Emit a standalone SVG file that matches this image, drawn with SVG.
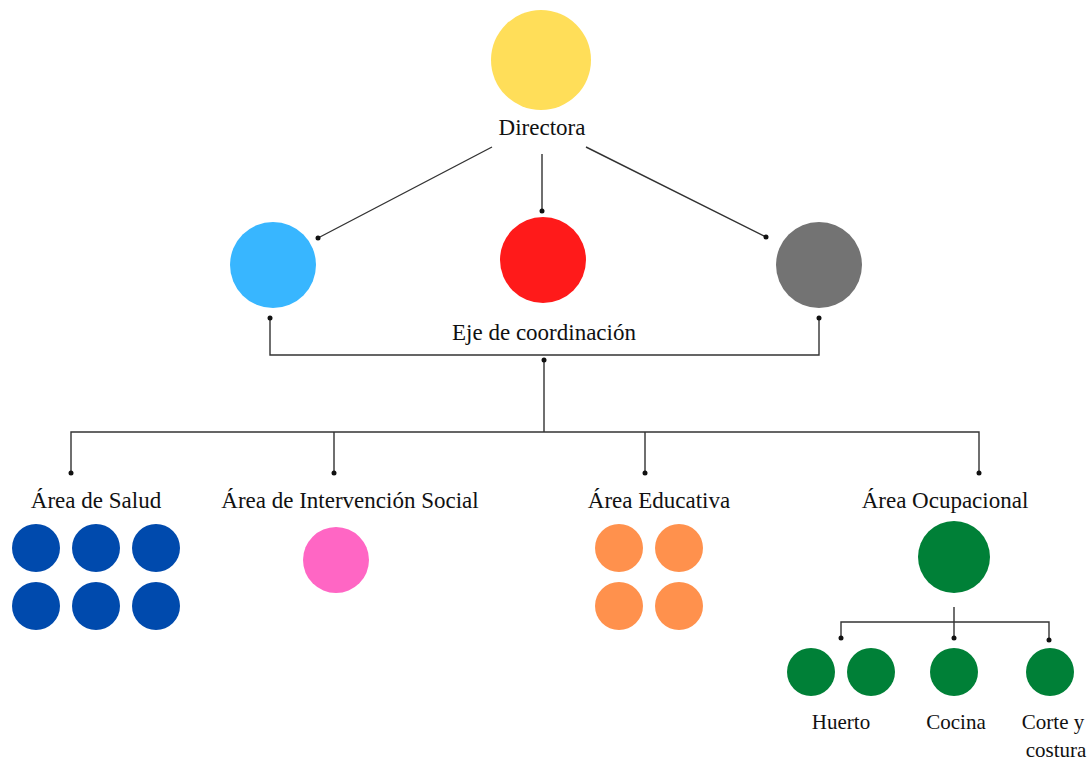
<svg xmlns="http://www.w3.org/2000/svg" width="1092" height="760" viewBox="0 0 1092 760">
<style>
text{font-family:"Liberation Serif","Times New Roman",serif;fill:#111;text-anchor:middle}
.l{font-size:23px}
.s{font-size:21px}
.c{fill:none;stroke:#333;stroke-width:1.4}
.d{fill:#111}
</style>
<rect width="1092" height="760" fill="#fff"/>
<g id="connectors">
<path class="c" d="M492 147L318 238M542 154V211M586 147L766 237"/>
<path class="c" d="M270 318V355H819V318M544 360V432M71 473V432H979V473M334 432V473M645 432V473"/>
<path class="c" d="M954 607V638M841 638V622H1049V640"/>
<circle class="d" cx="318" cy="238" r="2.5"/>
<circle class="d" cx="542" cy="211" r="2.5"/>
<circle class="d" cx="766" cy="237" r="2.5"/>
<circle class="d" cx="270" cy="318" r="2.5"/>
<circle class="d" cx="819" cy="318" r="2.5"/>
<circle class="d" cx="544" cy="360" r="2.5"/>
<circle class="d" cx="71" cy="473" r="2.5"/>
<circle class="d" cx="334" cy="473" r="2.5"/>
<circle class="d" cx="645" cy="473" r="2.5"/>
<circle class="d" cx="979" cy="473" r="2.5"/>
<circle class="d" cx="841" cy="638" r="2.5"/>
<circle class="d" cx="954" cy="638" r="2.5"/>
<circle class="d" cx="1049" cy="640" r="2.5"/>
</g>
<g id="directora">
<circle cx="541" cy="60" r="50" fill="#FFDE59"/>
<text class="l" x="542" y="135">Directora</text>
</g>
<g id="eje">
<circle cx="273" cy="265" r="43" fill="#38B6FF"/>
<circle cx="543" cy="260" r="43" fill="#FF1A1A"/>
<circle cx="819" cy="265" r="43" fill="#737373"/>
<text class="l" x="544" y="340">Eje de coordinación</text>
</g>
<g id="salud" fill="#004AAD">
<text class="l" x="96" y="508">Área de Salud</text>
<circle cx="36" cy="548" r="24"/>
<circle cx="96" cy="548" r="24"/>
<circle cx="156" cy="548" r="24"/>
<circle cx="36" cy="606" r="24"/>
<circle cx="96" cy="606" r="24"/>
<circle cx="156" cy="606" r="24"/>
</g>
<g id="intervencion">
<text class="l" x="350" y="508">Área de Intervención Social</text>
<circle cx="336" cy="560" r="33" fill="#FF66C4"/>
</g>
<g id="educativa" fill="#FF914D">
<text class="l" x="659" y="508">Área Educativa</text>
<circle cx="619" cy="548" r="24"/>
<circle cx="679" cy="548" r="24"/>
<circle cx="619" cy="606" r="24"/>
<circle cx="679" cy="606" r="24"/>
</g>
<g id="ocupacional" fill="#008037">
<text class="l" x="945" y="508">Área Ocupacional</text>
<circle cx="954" cy="557" r="36"/>
</g>
<g id="huerto" fill="#008037">
<circle cx="811" cy="672" r="24"/>
<circle cx="871" cy="672" r="24"/>
<text class="s" x="841" y="729">Huerto</text>
</g>
<g id="cocina" fill="#008037">
<circle cx="954" cy="672" r="24"/>
<text class="s" x="956" y="729">Cocina</text>
</g>
<g id="corte" fill="#008037">
<circle cx="1050" cy="672" r="24"/>
<text class="s" x="1053" y="729">Corte y</text>
<text class="s" x="1056" y="757">costura</text>
</g>
</svg>
